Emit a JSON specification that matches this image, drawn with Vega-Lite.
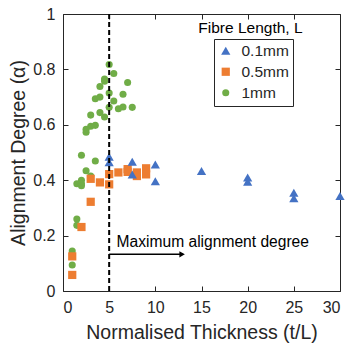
{
  "$schema": "https://vega.github.io/schema/vega-lite/v6.json",
  "width": 277,
  "height": 277,
  "autosize": "none",
  "padding": {"left": 63, "top": 14, "right": 9, "bottom": 53},
  "background": "white",
  "config": {
    "font": "Liberation Sans",
    "view": {"stroke": "#262626", "strokeWidth": 1},
    "axis": {"domain": false, "grid": false, "tickColor": "#262626", "tickSize": -5, "labelColor": "#262626", "titleColor": "#262626", "labelFontSize": 16, "titleFontSize": 19.5, "titleFontWeight": "normal", "labelFont": "Liberation Sans", "titleFont": "Liberation Sans"}
  },
  "datasets": {
    "pts": [
      {"t": 5.0, "a": 0.818, "L": "1mm"}, {"t": 5.5, "a": 0.785, "L": "1mm"}, {"t": 4.5, "a": 0.765, "L": "1mm"}, {"t": 4.5, "a": 0.757, "L": "1mm"},
      {"t": 7.0, "a": 0.753, "L": "1mm"}, {"t": 4.0, "a": 0.738, "L": "1mm"}, {"t": 5.0, "a": 0.715, "L": "1mm"}, {"t": 6.5, "a": 0.71, "L": "1mm"},
      {"t": 3.5, "a": 0.694, "L": "1mm"}, {"t": 4.0, "a": 0.70, "L": "1mm"}, {"t": 5.5, "a": 0.686, "L": "1mm"}, {"t": 5.0, "a": 0.663, "L": "1mm"},
      {"t": 6.0, "a": 0.658, "L": "1mm"}, {"t": 6.5, "a": 0.664, "L": "1mm"}, {"t": 7.5, "a": 0.663, "L": "1mm"}, {"t": 3.0, "a": 0.635, "L": "1mm"},
      {"t": 4.0, "a": 0.644, "L": "1mm"}, {"t": 4.5, "a": 0.628, "L": "1mm"}, {"t": 3.5, "a": 0.598, "L": "1mm"}, {"t": 3.0, "a": 0.595, "L": "1mm"},
      {"t": 2.5, "a": 0.584, "L": "1mm"}, {"t": 2.5, "a": 0.573, "L": "1mm"}, {"t": 2.0, "a": 0.49, "L": "1mm"}, {"t": 3.5, "a": 0.469, "L": "1mm"},
      {"t": 2.5, "a": 0.434, "L": "1mm"}, {"t": 3.0, "a": 0.415, "L": "1mm"}, {"t": 2.0, "a": 0.40, "L": "1mm"}, {"t": 1.5, "a": 0.387, "L": "1mm"},
      {"t": 2.0, "a": 0.387, "L": "1mm"}, {"t": 2.0, "a": 0.38, "L": "1mm"}, {"t": 1.5, "a": 0.26, "L": "1mm"}, {"t": 1.5, "a": 0.237, "L": "1mm"},
      {"t": 1.0, "a": 0.144, "L": "1mm"}, {"t": 1.0, "a": 0.094, "L": "1mm"},
      {"t": 5.0, "a": 0.422, "L": "0.5mm"}, {"t": 6.0, "a": 0.428, "L": "0.5mm"}, {"t": 7.0, "a": 0.44, "L": "0.5mm"}, {"t": 7.0, "a": 0.43, "L": "0.5mm"},
      {"t": 8.0, "a": 0.428, "L": "0.5mm"}, {"t": 8.0, "a": 0.415, "L": "0.5mm"}, {"t": 9.0, "a": 0.443, "L": "0.5mm"}, {"t": 9.0, "a": 0.421, "L": "0.5mm"},
      {"t": 3.0, "a": 0.405, "L": "0.5mm"}, {"t": 4.0, "a": 0.392, "L": "0.5mm"}, {"t": 5.0, "a": 0.385, "L": "0.5mm"}, {"t": 3.0, "a": 0.322, "L": "0.5mm"},
      {"t": 2.0, "a": 0.231, "L": "0.5mm"}, {"t": 1.0, "a": 0.125, "L": "0.5mm"}, {"t": 1.0, "a": 0.058, "L": "0.5mm"},
      {"t": 5.0, "a": 0.485, "L": "0.1mm"}, {"t": 5.0, "a": 0.465, "L": "0.1mm"}, {"t": 7.5, "a": 0.467, "L": "0.1mm"}, {"t": 7.5, "a": 0.421, "L": "0.1mm"},
      {"t": 10.0, "a": 0.457, "L": "0.1mm"}, {"t": 10.0, "a": 0.396, "L": "0.1mm"}, {"t": 15.0, "a": 0.433, "L": "0.1mm"}, {"t": 20.0, "a": 0.41, "L": "0.1mm"},
      {"t": 20.0, "a": 0.394, "L": "0.1mm"}, {"t": 25.0, "a": 0.355, "L": "0.1mm"}, {"t": 25.0, "a": 0.335, "L": "0.1mm"}, {"t": 30.0, "a": 0.343, "L": "0.1mm"}
    ]
  },
  "layer": [
    {
      "data": {"name": "pts"},
      "mark": {"type": "point", "filled": true, "opacity": 1},
      "encoding": {
        "x": {"field": "t", "type": "quantitative", "scale": {"domain": [0, 30], "nice": false, "zero": false},
              "axis": {"orient": "bottom", "values": [0, 5, 10, 15, 20, 25, 30], "title": "Normalised Thickness (t/L)", "labelPadding": 13, "titlePadding": 8}},
        "y": {"field": "a", "type": "quantitative", "scale": {"domain": [0, 1], "nice": false},
              "axis": {"orient": "left", "values": [0, 0.2, 0.4, 0.6, 0.8, 1], "format": "~g", "title": "Alignment Degree (α)", "labelPadding": 13, "titlePadding": 4}},
        "color": {"field": "L", "type": "nominal", "scale": {"domain": ["0.1mm", "0.5mm", "1mm"], "range": ["#4472C4", "#ED7D31", "#70AD47"]},
                  "legend": {"orient": "none", "legendX": 151, "legendY": 25, "title": null, "strokeColor": "#262626", "padding": 4, "symbolOffset": 0, "labelOffset": 8, "columnPadding": 0, "labelFontSize": 15.5, "labelColor": "#262626", "rowPadding": 4, "symbolSize": 50, "fillColor": "white"}},
        "shape": {"field": "L", "type": "nominal", "scale": {"domain": ["0.1mm", "0.5mm", "1mm"], "range": ["triangle-up", "square", "circle"]}},
        "size": {"field": "L", "type": "nominal", "scale": {"domain": ["0.1mm", "0.5mm", "1mm"], "range": [85, 50, 50]}, "legend": null}
      }
    },
    {
      "data": {"values": [{"x": 5}]},
      "mark": {"type": "rule", "color": "black", "strokeWidth": 2, "strokeDash": [5, 3]},
      "encoding": {
        "x": {"field": "x", "type": "quantitative", "axis": {"orient": "top", "values": [0, 5, 10, 15, 20, 25, 30], "labels": false, "title": null}}
      }
    },
    {
      "data": {"values": [{"x": 5, "x2": 13.0, "y": 0.1325}]},
      "mark": {"type": "rule", "color": "black", "strokeWidth": 1.5},
      "encoding": {
        "x": {"field": "x", "type": "quantitative", "axis": null},
        "x2": {"field": "x2"},
        "y": {"field": "y", "type": "quantitative", "axis": {"orient": "right", "values": [0, 0.2, 0.4, 0.6, 0.8, 1], "labels": false, "title": null}}
      }
    },
    {
      "data": {"values": [{"x": 12.9, "y": 0.1325}]},
      "mark": {"type": "point", "shape": "triangle-right", "filled": true, "color": "black", "opacity": 1, "size": 40},
      "encoding": {
        "x": {"field": "x", "type": "quantitative", "axis": null},
        "y": {"field": "y", "type": "quantitative", "axis": null}
      }
    },
    {
      "data": {"values": [{"x": 5.8, "y": 0.159, "label": "Maximum alignment degree"}]},
      "mark": {"type": "text", "align": "left", "baseline": "alphabetic", "fontSize": 15.6, "color": "black", "font": "Liberation Sans"},
      "encoding": {
        "x": {"field": "x", "type": "quantitative", "axis": null},
        "y": {"field": "y", "type": "quantitative", "axis": null},
        "text": {"field": "label"}
      }
    },
    {
      "data": {"values": [{"x": 20.3, "y": 0.948, "label": "Fibre Length, L"}]},
      "mark": {"type": "text", "align": "center", "baseline": "middle", "fontSize": 15.5, "color": "black", "font": "Liberation Sans"},
      "encoding": {
        "x": {"field": "x", "type": "quantitative", "axis": null},
        "y": {"field": "y", "type": "quantitative", "axis": null},
        "text": {"field": "label"}
      }
    }
  ],
  "resolve": {"axis": {"x": "independent", "y": "independent"}}
}
